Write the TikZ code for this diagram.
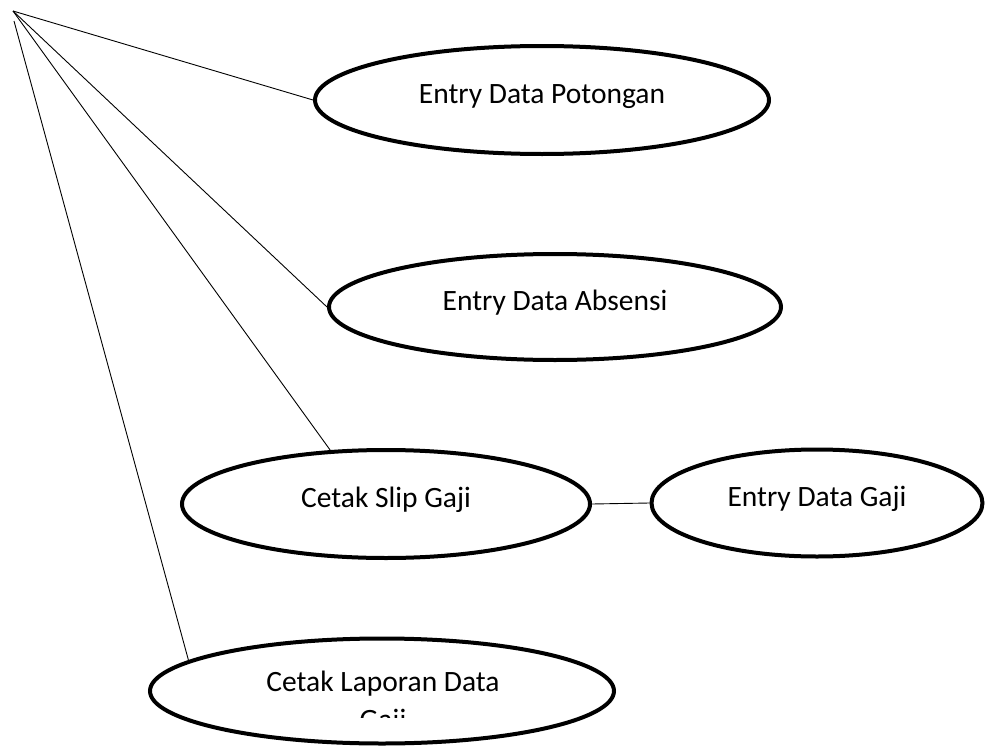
\documentclass[tikz,border=0pt]{standalone}
\usepackage{fontspec}
\setmainfont{Carlito}
\usetikzlibrary{shapes.geometric}
\tikzset{
  usecase/.style={draw=black, line width=4pt, ellipse, inner sep=0pt,
    text height=19pt, text depth=12pt, font=\fontsize{29.5}{35}\selectfont},
  assoc/.style={line width=0.9pt, color=black},
  uclabel/.style={inner sep=0pt, anchor=base, font=\fontsize{29.5}{35}\selectfont},
}

\begin{document}
\begin{tikzpicture}[x=1pt,y=-1pt]
		%%%%% START %%%%%
		\useasboundingbox (0,0) rectangle (989,747);
		
		\coordinate (actor) at (13,11);
		\coordinate (actorB) at (14,21);
		
		\node[usecase, minimum width=454pt, minimum height=108pt] (potongan) at (542,100) {Entry Data Potongan};
		\node[usecase, minimum width=452pt, minimum height=106pt] (absensi) at (555,307) {Entry Data Absensi};
		\node[usecase, minimum width=408pt, minimum height=108pt] (slip) at (386,504) {Cetak Slip Gaji};
		\node[usecase, minimum width=331pt, minimum height=107pt] (gaji) at (817,503) {Entry Data Gaji};
		
		% laporan: text runs over the box, second line cut off
		\node[usecase, minimum width=464pt, minimum height=105pt] (laporan) at (382,691) {};
		\node[uclabel] (laporanA) at (383,691) {Cetak Laporan Data};
		\begin{scope}
			\clip (0,0) rectangle (989,717);
			\node[uclabel] (laporanB) at (383,729) {Gaji};
		\end{scope}
		
		\draw[assoc] (actor) -- (potongan.west);
		\draw[assoc] (actor) -- (absensi.west);
		\draw[assoc] (actor) -- (slip.136);
		\draw[assoc] (actorB) -- (laporan.171);
		
		\draw[assoc] (slip.east) -- (gaji.west);
		
		%%%%% END %%%%%
	\end{tikzpicture}
\end{document}
